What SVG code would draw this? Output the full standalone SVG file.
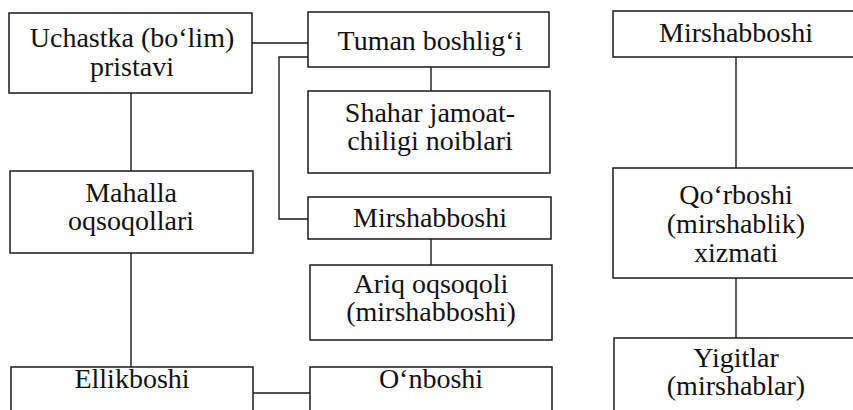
<svg xmlns="http://www.w3.org/2000/svg" width="853" height="410" viewBox="0 0 853 410">
<defs>
<style>
.box{fill:#fff;stroke:#1a1a1a;stroke-width:1.5}
.ln{fill:none;stroke:#1a1a1a;stroke-width:1.4}
.t{font-family:"Liberation Serif","Times New Roman",serif;font-size:28px;fill:#111;text-anchor:middle}
</style>
</defs>
<rect width="853" height="410" fill="#fff"/>
<g id="connectors">
<path class="ln" d="M252 43H308"/>
<path class="ln" d="M308 57H279V219H308"/>
<path class="ln" d="M431 67V91"/>
<path class="ln" d="M431 239V265"/>
<path class="ln" d="M131 93V171"/>
<path class="ln" d="M131 253V367"/>
<path class="ln" d="M253 393H310"/>
<path class="ln" d="M736 57V168"/>
<path class="ln" d="M736 278V338"/>
</g>
<g class="t">
<g id="uchastka"><rect class="box" x="9" y="13" width="243" height="80"/><text x="132" y="47">Uchastka (bo‘lim)</text><text x="132" y="76">pristavi</text></g>
<g id="tuman"><rect class="box" x="308" y="12" width="241" height="55"/><text x="430" y="50">Tuman boshlig‘i</text></g>
<g id="shahar"><rect class="box" x="308" y="91" width="242" height="82"/><text x="430" y="122">Shahar jamoat-</text><text x="430" y="150">chiligi noiblari</text></g>
<g id="mahalla"><rect class="box" x="10" y="171" width="243" height="82"/><text x="131" y="202">Mahalla</text><text x="131" y="230">oqsoqollari</text></g>
<g id="mirshabboshi-mid"><rect class="box" x="308" y="197" width="243" height="42"/><text x="430" y="227">Mirshabboshi</text></g>
<g id="ariq"><rect class="box" x="310" y="265" width="242" height="75"/><text x="431" y="293">Ariq oqsoqoli</text><text x="431" y="321">(mirshabboshi)</text></g>
<g id="ellikboshi"><rect class="box" x="11" y="367" width="242" height="60"/><text x="132" y="388">Ellikboshi</text></g>
<g id="onboshi"><rect class="box" x="310" y="367" width="242" height="60"/><text x="431" y="388">O‘nboshi</text></g>
<g id="mirshabboshi-right"><rect class="box" x="613" y="11" width="260" height="46"/><text x="736" y="42">Mirshabboshi</text></g>
<g id="qorboshi"><rect class="box" x="613" y="168" width="260" height="110"/><text x="736" y="204">Qo‘rboshi</text><text x="736" y="233">(mirshablik)</text><text x="736" y="262">xizmati</text></g>
<g id="yigitlar"><rect class="box" x="614" y="338" width="260" height="90"/><text x="736" y="367">Yigitlar</text><text x="736" y="395">(mirshablar)</text></g>
</g>
</svg>
